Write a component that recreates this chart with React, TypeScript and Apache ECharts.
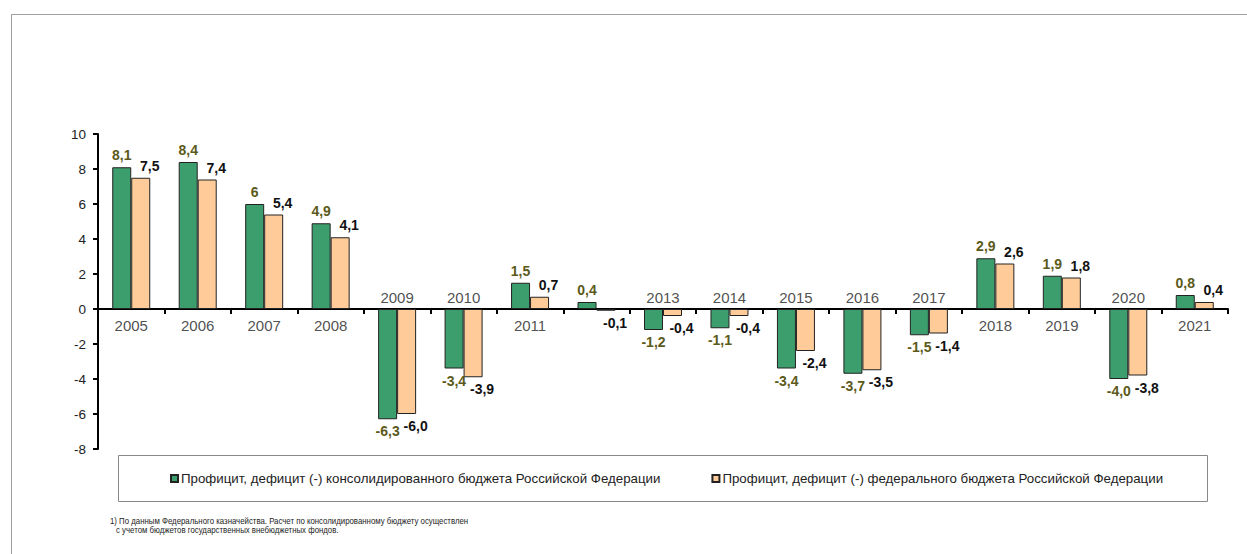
import React, { useEffect, useRef } from "react";
import * as echarts from "echarts";

const years = ["2005","2006","2007","2008","2009","2010","2011","2012","2013","2014","2015","2016","2017","2018","2019","2020","2021"];
const consolidated = [8.1, 8.4, 6, 4.9, -6.3, -3.4, 1.5, 0.4, -1.2, -1.1, -3.4, -3.7, -1.5, 2.9, 1.9, -4.0, 0.8];
const federal = [7.5, 7.4, 5.4, 4.1, -6.0, -3.9, 0.7, -0.1, -0.4, -0.4, -2.4, -3.5, -1.4, 2.6, 1.8, -3.8, 0.4];
const hiddenYearLabels = ["2012"];
const seriesNames = [
  "Профицит, дефицит (-) консолидированного бюджета Российской Федерации",
  "Профицит, дефицит (-) федерального бюджета Российской Федерации",
];
const footnote = [
  "1) По данным Федерального казначейства. Расчет по консолидированному бюджету осуществлен",
  "с учетом бюджетов государственных внебюджетных фондов.",
];

const FONT = "'Liberation Sans', Arial, sans-serif";

const fmt = (v: number) =>
  Number.isInteger(v) && v > 0 ? String(v) : v.toFixed(1).replace(".", ",");

export default function App() {
  const ref = useRef<HTMLDivElement>(null);
  useEffect(() => {
    if (!ref.current) return;
    const chart = echarts.init(ref.current, undefined, { renderer: "svg" });

    const barData = (vals: number[], dx: number) =>
      vals.map((v) => ({
        value: v,
        label: {
          position: v >= 0 ? "top" : "bottom",
          distance: 5,
          offset: [dx, 0],
        },
      }));

    const yearData = years.map((y, i) => ({
      value: 0,
      label: {
        show: !hiddenYearLabels.includes(y),
        position: consolidated[i] >= 0 ? "bottom" : "top",
        distance: consolidated[i] >= 0 ? 9 : 4,
      },
    }));

    chart.setOption({
      animation: false,
      backgroundColor: "#ffffff",
      grid: { left: 98, right: 19, top: 134, bottom: 105, containLabel: false },
      xAxis: {
        type: "category",
        data: years,
        axisLine: { onZero: true, lineStyle: { color: "#000", width: 2 } },
        axisTick: { show: true, length: 5, lineStyle: { color: "#000", width: 2 } },
        axisLabel: { show: false },
        splitLine: { show: false },
      },
      yAxis: {
        type: "value",
        min: -8,
        max: 10,
        interval: 2,
        axisLine: { show: true, lineStyle: { color: "#000", width: 2 } },
        axisTick: { show: true, length: 5, lineStyle: { color: "#000", width: 2 } },
        axisLabel: { color: "#222", fontSize: 13.5, fontFamily: FONT, margin: 12 },
        splitLine: { show: false },
      },
      legend: {
        left: 165,
        top: 467,
        itemWidth: 7,
        itemHeight: 7,
        itemGap: 51,
        icon: "rect",
        data: seriesNames,
        textStyle: { color: "#222", fontSize: 13.3, fontFamily: FONT, padding: [0, 0, 0, -2] },
      },
      series: [
        {
          name: seriesNames[0],
          type: "bar",
          barWidth: 19,
          barGap: "0%",
          data: barData(consolidated, 0),
          itemStyle: { color: "#3c9e6c", borderColor: "#222", borderWidth: 1 },
          label: {
            show: true,
            formatter: (p: any) => fmt(p.value),
            color: "#5c5a1a",
            fontSize: 14,
            fontWeight: "bold",
            fontFamily: FONT,
          },
        },
        {
          name: seriesNames[1],
          type: "bar",
          barWidth: 19,
          barGap: "0%",
          data: barData(federal, 9),
          itemStyle: { color: "#ffcc99", borderColor: "#222", borderWidth: 1 },
          label: {
            show: true,
            formatter: (p: any) => fmt(p.value),
            color: "#111",
            fontSize: 14,
            fontWeight: "bold",
            fontFamily: FONT,
          },
        },
        {
          name: "years",
          type: "scatter",
          symbolSize: 0,
          silent: true,
          data: yearData,
          label: {
            formatter: (p: any) => p.name,
            color: "#222",
            fontSize: 15,
            fontFamily: FONT,
          },
          z: 5,
        },
      ],
      graphic: [
        { type: "line", shape: { x1: 11, y1: 14.5, x2: 1247, y2: 14.5 }, style: { stroke: "#a0a0a0", lineWidth: 1 } },
        { type: "line", shape: { x1: 11.5, y1: 14, x2: 11.5, y2: 554 }, style: { stroke: "#a0a0a0", lineWidth: 1 } },
        { type: "rect", shape: { x: 118.5, y: 455.5, width: 1089, height: 46 }, style: { fill: "none", stroke: "#888", lineWidth: 1 } },
        { type: "text", x: 110, y: 516, scaleX: 0.87, style: { text: footnote[0], fontSize: 9, fontFamily: FONT, fill: "#222" } },
        { type: "text", x: 116, y: 525, scaleX: 0.87, style: { text: footnote[1], fontSize: 9, fontFamily: FONT, fill: "#222" } },
      ],
    });
    return () => chart.dispose();
  }, []);
  return <div ref={ref} style={{ position: "absolute", left: 0, top: 0, width: 1247, height: 554 }} />;
}
